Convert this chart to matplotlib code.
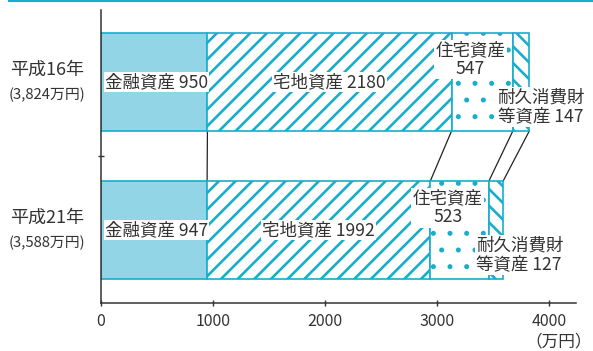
import numpy as np
import matplotlib.pyplot as plt
import matplotlib.hatch
from matplotlib.lines import Line2D

plt.rcParams['font.family'] = ['Noto Sans CJK JP', 'DejaVu Sans']
plt.rcParams['hatch.linewidth'] = 1.9
# smaller dots for the housing segment
matplotlib.hatch.SmallFilledCircles.size = 0.07

# data (万円)
years = ['平成16年', '平成21年']
totals = ['3,824', '3,588']
categories = ['金融資産', '宅地資産', '住宅資産', '耐久消費財\n等資産']
financial = [950, 947]
land = [2180, 1992]
housing = [547, 523]
durable = [147, 127]
xticks = [0, 1000, 2000, 3000, 4000]

teal = '#17aecb'
light = '#92d5e6'
txt = '#333333'

fig = plt.figure(figsize=(5.93, 3.51), dpi=100)
ax = fig.add_axes([101/593, 1 - 303/351, 475/593, 293/351])

ypos = np.array([1, 0])
h = 0.66
series = [financial, land, housing, durable]
styles = [dict(color=light, hatch=None),
          dict(color='white', hatch='//'),
          dict(color='white', hatch='.'),
          dict(color='white', hatch='\\\\')]
left = np.zeros(2)
edges = []
for vals, st in zip(series, styles):
    vals = np.array(vals, dtype=float)
    ax.barh(ypos, vals, left=left, height=h, color=st['color'], hatch=st['hatch'],
            edgecolor=teal, linewidth=1.2, zorder=2)
    left = left + vals
    edges.append(left.copy())

# connecting lines between the two bars
for e in edges:
    ax.plot([e[0], e[1]], [ypos[0] - h/2, ypos[1] + h/2], color='#222222', lw=0.9, zorder=1)

box = dict(facecolor='white', edgecolor='none', pad=1)
fs = 12.6
for i, y in enumerate(ypos):
    f, l, hs, d = financial[i], land[i], housing[i], durable[i]
    ax.text(35, y, f'{categories[0]} {f}', ha='left', va='center', fontsize=fs,
            color=txt, bbox=box, zorder=4)
    ax.text(f + l/2, y, f'{categories[1]} {l}', ha='center', va='center', fontsize=fs,
            color=txt, bbox=box, zorder=4)
    ax.text(f + l + hs/2 - 105, y + 0.15, f'{categories[2]}\n{hs}', ha='center', va='center',
            fontsize=fs, color=txt, bbox=box, linespacing=1.05, zorder=4)
    ax.text(f + l + 410, y - 0.17, f'{categories[3]} {d}', ha='left', va='center',
            fontsize=fs, color=txt, bbox=box, linespacing=1.05, zorder=4)
    ax.text(-0.114, y + 0.08, years[i], transform=ax.get_yaxis_transform(),
            ha='center', va='center', fontsize=13, color=txt)
    ax.text(-0.114, y - 0.09, f'({totals[i]}万円)', transform=ax.get_yaxis_transform(),
            ha='center', va='center', fontsize=10.7, color=txt)

ax.set_xlim(0, 4240)
ax.set_ylim(-0.493, 1.486)
ax.set_xticks(xticks)
ax.set_xticklabels([str(t) for t in xticks], fontsize=11.5, color=txt)
ax.set_yticks([0.5])
ax.set_yticklabels([''])
ax.tick_params(axis='both', direction='inout', length=5, width=1, color=txt, pad=5)
for s in ['top', 'right']:
    ax.spines[s].set_visible(False)
for s in ['left', 'bottom']:
    ax.spines[s].set_color(txt)
    ax.spines[s].set_linewidth(1.1)

fig.text(592/593, 1 - 342/351, '（万円）', ha='right', va='center',
         fontsize=12, color=txt)

fig.add_artist(Line2D([0.015, 1], [0.997, 0.997], transform=fig.transFigure,
                      color=teal, lw=1.5))

fig.savefig('out.png', dpi=100)
